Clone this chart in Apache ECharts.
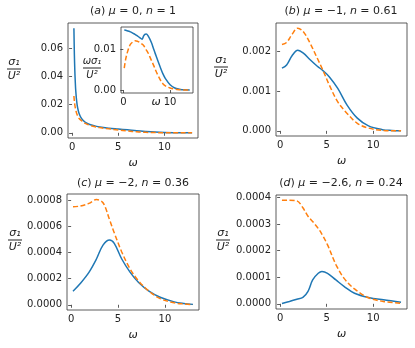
<!DOCTYPE html>
<html>
<head>
<meta charset="utf-8">
<script src="https://cdn.jsdelivr.net/npm/echarts@6/dist/echarts.min.js"></script>
<style>
html, body { margin: 0; padding: 0; background: #fff; }
#chart { width: 415px; height: 348px; }
</style>
</head>
<body>
<div id="chart"></div>
<script>
// values
var xA = [0.2, 0.25, 0.3, 0.35, 0.4, 0.5, 0.6, 0.75, 1, 1.3, 1.6, 2, 2.5, 3, 4, 5, 6, 7, 8, 9, 10, 11, 12, 13];
var blueA = [0.0745, 0.056, 0.044, 0.036, 0.030, 0.0225, 0.018, 0.0140, 0.0105, 0.0082, 0.0068, 0.0057, 0.0048, 0.0041, 0.0033, 0.0027, 0.0021, 0.0014, 0.0009, 0.0005, 0.00025, 0.00012, 0.00005, 0.00002];
var orangeA = [0.0262, 0.0225, 0.0198, 0.0178, 0.0162, 0.0138, 0.0122, 0.0104, 0.0088, 0.0072, 0.0062, 0.0052, 0.0043, 0.0037, 0.0028, 0.0020, 0.0013, 0.0007, 0.00035, 0.00015, 0.00007, 0.00003, 0.00001, 0];

var xInset = [0.2, 0.5, 1, 1.5, 2, 2.5, 3, 3.5, 4, 4.3, 4.6, 4.9, 5.3, 6, 6.5, 7, 7.5, 8, 8.5, 9, 10, 11, 12, 13, 14.2];
var blueInset = [0.01475, 0.0147, 0.0145, 0.0143, 0.0140, 0.0137, 0.0133, 0.0129, 0.0125, 0.0132, 0.0137, 0.0138, 0.0133, 0.0117, 0.0100, 0.0084, 0.0068, 0.0053, 0.0039, 0.0028, 0.0013, 0.0005, 0.0002, 0.00005, 0.00002];
var orangeInset = [0.0054, 0.0076, 0.0098, 0.0112, 0.0118, 0.0121, 0.0120, 0.0117, 0.0113, 0.0110, 0.0105, 0.0099, 0.0091, 0.0073, 0.0060, 0.0046, 0.0034, 0.0023, 0.0015, 0.0010, 0.0005, 0.0002, 0.00007, 0.00002, 0];

var xB = [0.2, 0.7, 1.3, 1.9, 2.5, 3.2, 4, 4.6, 5.3, 6.2, 7.2, 8.3, 9.5, 11, 12, 13];
var blueB = [0.00158, 0.00166, 0.0019, 0.00203, 0.00196, 0.0018, 0.00163, 0.00152, 0.00136, 0.00107, 0.00065, 0.00032, 0.000125, 0.00003, 0.00001, 0];
var orangeB = [0.00218, 0.00223, 0.00244, 0.00259, 0.0025, 0.00222, 0.00183, 0.00153, 0.00115, 0.00073, 0.00044, 0.00019, 0.00007, 0.00001, 0, 0];

var xC = [0.2, 1, 1.9, 2.7, 3.4, 4.1, 4.6, 5.4, 6.3, 7.2, 8.3, 9.5, 11, 12, 13];
var blueC = [0.000104, 0.000165, 0.000248, 0.00035, 0.000456, 0.000495, 0.00047, 0.00035, 0.000248, 0.00017, 0.000104, 0.000057, 0.000022, 0.00001, 0.000003];
var orangeC = [0.00075, 0.000755, 0.000775, 0.000805, 0.00078, 0.00065, 0.00055, 0.000404, 0.000273, 0.000182, 0.000104, 0.000047, 0.000015, 0.000006, 0.000002];

var xD = [0.2, 1.0, 1.8, 2.45, 3.0, 3.5, 4.1, 4.5, 5.1, 6.0, 6.9, 8.0, 9.5, 11.1, 13];
var blueD = [0.0000015, 0.000009, 0.000017, 0.000024, 0.000047, 0.00009, 0.000115, 0.000122, 0.000115, 0.00009, 0.000065, 0.00004, 0.000024, 0.000015, 0.000006];
var orangeD = [0.00039, 0.00039, 0.000388, 0.000362, 0.00033, 0.00031, 0.000284, 0.000262, 0.000222, 0.000148, 0.000095, 0.000056, 0.000023, 0.000009, 0.000002];

var xTicks = [0, 5, 10];
var xTicksInset = [0, 10];
var yTicksA = [0, 0.02, 0.04, 0.06];
var yTicksInset = [0, 0.01];
var yTicksB = [0, 0.001, 0.002];
var yTicksC = [0, 0.0002, 0.0004, 0.0006, 0.0008];
var yTicksD = [0, 0.0001, 0.0002, 0.0003, 0.0004];

var FONT = 'DejaVu Sans';
var INK = '#222';
var BLUE = '#1f77b4', ORANGE = '#ff7f0e';

function pairs(xs, ys) {
    return xs.map(function (x, i) { return [x, ys[i]]; });
}

var panels = [
    {grid: {left: 68, top: 23, width: 130, height: 115}, x: [-0.44, 13.64], y: [-0.0037, 0.0782],
     xt: xTicks, yt: yTicksA, dec: 2, xs: xA, b: blueA, o: orangeA},
    {grid: {left: 276, top: 23, width: 131, height: 113}, x: [-0.44, 13.64], y: [-0.00013, 0.00272],
     xt: xTicks, yt: yTicksB, dec: 3, xs: xB, b: blueB, o: orangeB},
    {grid: {left: 67, top: 194, width: 132, height: 116}, x: [-0.44, 13.64], y: [-0.00004, 0.000847],
     xt: xTicks, yt: yTicksC, dec: 4, xs: xC, b: blueC, o: orangeC},
    {grid: {left: 276, top: 195, width: 131, height: 114}, x: [-0.44, 13.64], y: [-0.0000195, 0.00041],
     xt: xTicks, yt: yTicksD, dec: 4, xs: xD, b: blueD, o: orangeD},
    // inset of (a)
    {grid: {left: 121, top: 27, width: 72, height: 66}, x: [-0.5, 14.9], y: [-0.00074, 0.0155],
     xt: xTicksInset, yt: yTicksInset, dec: 2, xs: xInset, b: blueInset, o: orangeInset, inset: true}
];

var grids = [], xAxes = [], yAxes = [], series = [];
panels.forEach(function (p, i) {
    grids.push({
        left: p.grid.left, top: p.grid.top, width: p.grid.width, height: p.grid.height,
        show: true, borderColor: '#333', borderWidth: 0.8,
        backgroundColor: '#fff'
    });
    xAxes.push({
        gridIndex: i, type: 'value', min: p.x[0], max: p.x[1],
        axisLine: {show: false},
        splitLine: {show: false},
        axisTick: {show: true, length: 3, customValues: p.xt, lineStyle: {color: '#333', width: 0.8}},
        axisLabel: {customValues: p.xt, margin: 4, color: INK, fontSize: 10, fontFamily: FONT,
                    showMinLabel: true, showMaxLabel: true, hideOverlap: false,
                    formatter: function (v) { return String(v); }},
        name: 'ω', nameLocation: 'middle', nameGap: p.inset ? 4 : 20, nameMoveOverlap: false,
        nameTextStyle: {fontStyle: 'italic', fontFamily: FONT, fontSize: 11, color: INK,
                        padding: p.inset ? [0, 2, 0, 0] : 0}
    });
    yAxes.push({
        gridIndex: i, type: 'value', min: p.y[0], max: p.y[1],
        axisLine: {show: false},
        splitLine: {show: false},
        axisTick: {show: true, length: 3, customValues: p.yt, lineStyle: {color: '#333', width: 0.8}},
        axisLabel: {customValues: p.yt, margin: 5, color: INK, fontSize: 10, fontFamily: FONT,
                    showMinLabel: true, showMaxLabel: true, hideOverlap: false,
                    formatter: (function (d) { return function (v) { return v.toFixed(d); }; })(p.dec)}
    });
    series.push({
        type: 'line', xAxisIndex: i, yAxisIndex: i, data: pairs(p.xs, p.b),
        showSymbol: false, smooth: 0.35, z: 3,
        lineStyle: {color: BLUE, width: 1.5}
    });
    series.push({
        type: 'line', xAxisIndex: i, yAxisIndex: i, data: pairs(p.xs, p.o),
        showSymbol: false, smooth: 0.35, z: 4,
        lineStyle: {color: ORANGE, width: 1.5, type: [5, 2.5]}
    });
});

function title(txt, cx, top) {
    return {
        text: txt, left: cx, top: top, textAlign: 'center', padding: 0,
        textStyle: {fontFamily: FONT, fontSize: 11, fontWeight: 'normal', color: INK,
                    rich: {i: {fontStyle: 'italic', fontFamily: FONT, fontSize: 11, color: INK}}}
    };
}

// σ1/U² style fraction labels
function frac(top, cx, cy, size, half) {
    var f = 'italic ' + size + 'px ' + FONT;
    return {
        type: 'group', silent: true, z: 100,
        children: [
            {type: 'text', x: cx, y: cy - 1.5,
             style: {text: top, font: f, fill: INK, align: 'center', verticalAlign: 'bottom'}},
            {type: 'rect', shape: {x: cx - half, y: cy - 0.5, width: 2 * half, height: 1}, style: {fill: INK}},
            {type: 'text', x: cx, y: cy + 2,
             style: {text: 'U²', font: f, fill: INK, align: 'center', verticalAlign: 'top'}}
        ]
    };
}

var chart = echarts.init(document.getElementById('chart'));
chart.setOption({
    animation: false,
    backgroundColor: '#fff',
    title: [
        title('({i|a}) {i|μ} = 0, {i|n} = 1', 133, 6),
        title('({i|b}) {i|μ} = −1, {i|n} = 0.61', 341, 6),
        title('({i|c}) {i|μ} = −2, {i|n} = 0.36', 133, 178),
        title('({i|d}) {i|μ} = −2.6, {i|n} = 0.24', 341, 178)
    ],
    grid: grids,
    xAxis: xAxes,
    yAxis: yAxes,
    series: series,
    graphic: [
        frac('σ₁', 14, 69, 11, 7),
        frac('σ₁', 221, 67, 11, 7),
        frac('σ₁', 15, 240, 11, 7),
        frac('σ₁', 223, 240, 11, 7),
        frac('ωσ₁', 92, 68, 10, 9)
    ]
});
</script>
</body>
</html>
